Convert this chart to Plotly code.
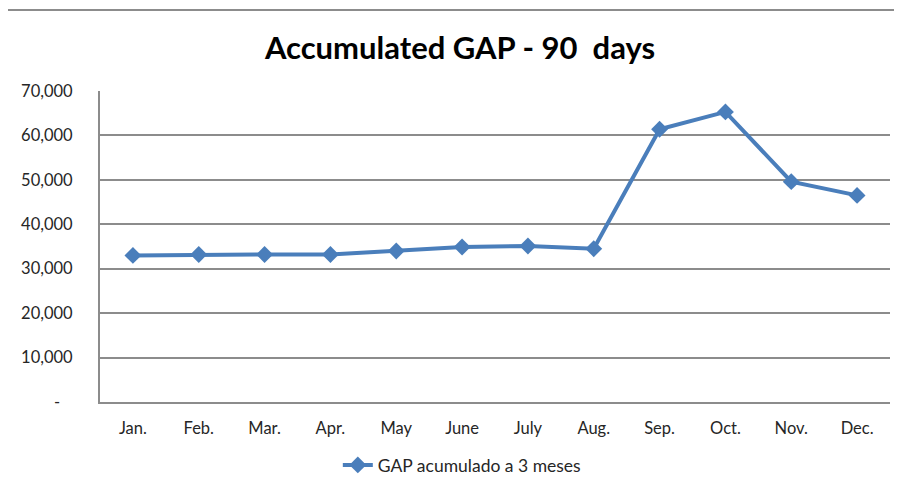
import plotly.graph_objects as go

months = ["Jan.", "Feb.", "Mar.", "Apr.", "May", "June", "July", "Aug.", "Sep.", "Oct.", "Nov.", "Dec."]
gap_values = [33000, 33200, 33200, 33200, 34000, 34900, 35100, 34500, 61400, 65300, 49600, 46500]
y_tickvals = [0, 10000, 20000, 30000, 40000, 50000, 60000, 70000]
y_ticktext = ["-\u00a0\u00a0\u00a0", "10,000", "20,000", "30,000", "40,000", "50,000", "60,000", "70,000"]
series_name = "GAP acumulado a 3 meses"
title_text = "Accumulated GAP - 90  days"

blue = "#4A7EBB"
grid = "#8C8C8C"
font_family = "Lato, 'Open Sans', sans-serif"

fig = go.Figure()
fig.add_trace(go.Scatter(
    x=months, y=gap_values, name=series_name, mode="lines+markers",
    line=dict(color=blue, width=4),
    marker=dict(symbol="diamond", size=13, color=blue),
))

# page body has an 8px margin; figure is sized/offset to compensate
fig.update_layout(
    width=894, height=482,
    margin=dict(l=92, r=12, t=83, b=88, autoexpand=False),
    paper_bgcolor="white", plot_bgcolor="white",
    font=dict(family=font_family, size=16.5, color="#262626"),
    title=dict(text="<b>" + title_text + "</b>", x=(460 - 8) / 894, xanchor="center",
               y=0.917, yanchor="middle",
               font=dict(family=font_family, size=31, color="black")),
    showlegend=True,
    legend=dict(orientation="h", x=0.458, xanchor="center", y=-0.2026, yanchor="middle",
                font=dict(size=17.5, color="#262626")),
    xaxis=dict(range=[-0.5, len(months) - 0.5], showgrid=False, showline=True,
               linecolor=grid, linewidth=2,
               ticks="", ticklabelstandoff=10, automargin=False),
    yaxis=dict(range=[0, 70000], tickvals=y_tickvals, ticktext=y_ticktext,
               showgrid=True, gridcolor=grid, gridwidth=2, zeroline=False,
               showline=True, linecolor=grid, linewidth=2, ticks="",
               ticklabelstandoff=22, automargin=False),
    shapes=[dict(type="rect", xref="paper", yref="paper",
                 x0=-0.121, x1=1.2, y0=-0.5, y1=1.2605,
                 line=dict(color="#8C8C8C", width=2), fillcolor="rgba(0,0,0,0)",
                 layer="below")],
)

fig.write_html("out.html")
